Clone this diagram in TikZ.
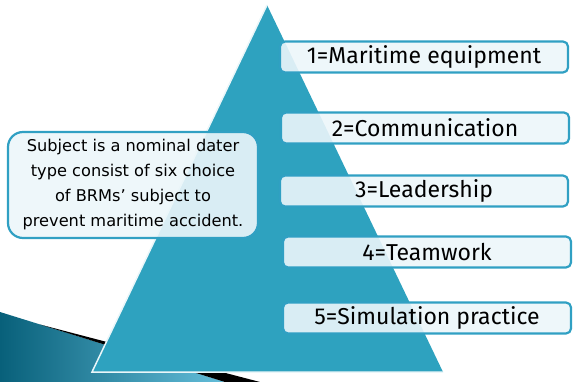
\documentclass[tikz,border=0pt]{standalone}
\usepackage{fontspec}
\setsansfont{Fira Sans}
\newfontfamily\notefont{DejaVu Sans}
\usetikzlibrary{positioning}
\definecolor{pyrteal}{RGB}{46, 162, 191}
\definecolor{boxedge}{RGB}{48, 160, 195}
\definecolor{boxfill}{RGB}{236, 246, 250}
\definecolor{swdark}{RGB}{8, 96, 122}
\definecolor{swlight}{RGB}{100, 190, 218}

\begin{document}
\begin{tikzpicture}[x=1pt, y=-1pt,
        itembox/.style={draw=boxedge, line width=2.2pt, rounded corners=5pt,
            minimum width=288pt, minimum height=31pt, inner sep=0pt,
            fill=boxfill, fill opacity=0.9, text opacity=1,
            font=\sffamily\fontsize{23}{26}\selectfont, text=black},
        notebox/.style={draw=boxedge, line width=2.2pt, rounded corners=15pt,
            minimum width=250pt, minimum height=106pt, inner sep=0pt,
            fill=boxfill, fill opacity=0.9, text opacity=1, align=center,
            font=\notefont\fontsize{16.2}{25}\selectfont, text=black}
    ]
    \useasboundingbox (0, 0) rectangle (573, 382);
    % swoosh in the lower left corner
    \shade[left color=swdark, right color=swlight]
        (0, 312) -- (225, 382) -- (0, 382) -- cycle;
    \fill[black] (40, 324.5) -- (260, 382) -- (225, 382) -- cycle;
    % pyramid
    \coordinate (apex) at (267, 5);
    \coordinate (baseL) at (92, 372);
    \coordinate (baseR) at (443, 372);
    \fill[pyrteal] (apex) -- (baseR) -- (baseL) -- cycle;
    \draw[white!90!pyrteal, line width=1.5pt] (apex) -- (baseL) -- (baseR);
    % items
    \node[itembox] (i1) at (424, 57)  {1=Maritime equipment};
    \node[itembox] (i2) at (425, 128) {2=Communication};
    \node[itembox] (i3) at (424, 191) {3=Leadership};
    \node[itembox] (i4) at (427, 252) {4=Teamwork};
    \node[itembox] (i5) at (427, 318) {5=Simulation practice};
    % note
    \node[notebox] (note) at (133, 185)
        {Subject is a nominal dater\\
         type consist of six choice\\
         of BRMs’ subject to\\
         prevent maritime accident.};
\end{tikzpicture}
\end{document}
